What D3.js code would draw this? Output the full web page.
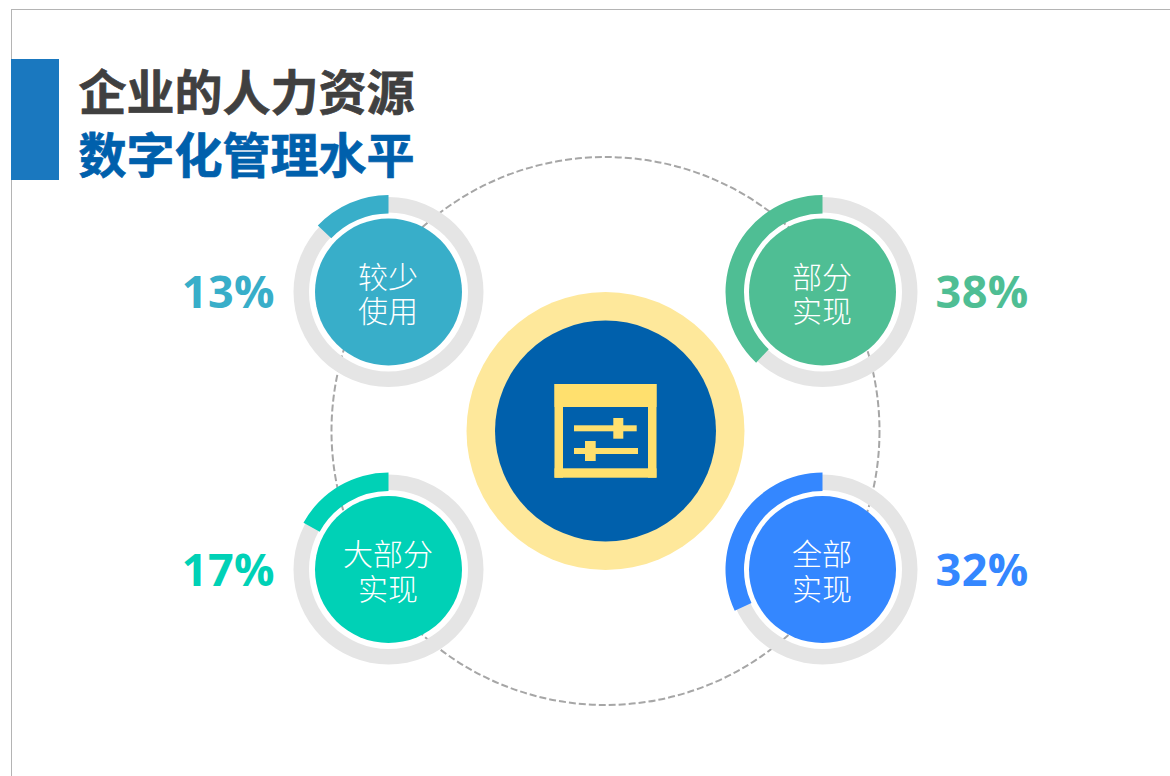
<!DOCTYPE html>
<html><head><meta charset="utf-8">
<script src="https://cdn.jsdelivr.net/npm/d3@7"></script>
<style>html,body{margin:0;padding:0;background:#fff;overflow:hidden}svg{display:block}</style></head>
<body><svg id="c" width="1170" height="776"></svg>
<script>
const titleLines = ["企业的人力资源", "数字化管理水平"];
const categories = [["较少","使用"], ["部分","实现"], ["大部分","实现"], ["全部","实现"]];
const values = [13, 38, 17, 32];
const colors = ["#38aec9", "#4fbe94", "#00d1b6", "#3487ff"];
const cols = [0, 1, 0, 1];
const rows = [0, 0, 1, 1];

const svg = d3.select("#c");
const cx = 605.5, cy = 431;
const x = d3.scaleOrdinal().domain([0,1]).range([388.5, 822.5]);
const y = d3.scaleOrdinal().domain([0,1]).range([292, 569.5]);
const angle = d3.scaleLinear().domain([0,100]).range([0, -2*Math.PI]);
const cjk = "'Noto Sans CJK SC','Noto Sans',sans-serif";

// frame
svg.append("rect").attr("x",11.5).attr("y",9.5).attr("width",1170).attr("height",800)
  .attr("fill","#fff").attr("stroke","#b4b4b4").attr("stroke-width",1);
// title
svg.append("rect").attr("x",11).attr("y",59).attr("width",48).attr("height",121).attr("fill","#1a78bf");
svg.selectAll("text.title").data(titleLines).join("text").attr("class","title")
  .attr("x",78.5).attr("y",(d,i)=>i?173:110)
  .attr("font-family",cjk).attr("font-weight",700).attr("font-size",48)
  .attr("fill",(d,i)=>i?"#0060ac":"#404040")
  .attr("stroke",(d,i)=>i?"#0060ac":"#404040").attr("stroke-width",0.7).text(d=>d);

// dashed orbit
svg.append("circle").attr("cx",cx).attr("cy",cy).attr("r",274)
  .attr("fill","none").attr("stroke","#a6a6a6").attr("stroke-width",2).attr("stroke-dasharray","7 3");

// centre
svg.append("circle").attr("cx",cx).attr("cy",cy).attr("r",139).attr("fill","#fee89b");
svg.append("circle").attr("cx",cx).attr("cy",cy).attr("r",110.5).attr("fill","#0060ac");
const ic = svg.append("g").attr("transform",`translate(${cx},${cy})`).attr("fill","#ffe06e");
const iconRects = [[-51,-47,102,23],[-51,-47,8.5,93.7],[42.5,-47,8.5,93.7],[-51,37.3,102,9.4],
  [-31.5,-5.7,62.7,6],[7.8,-13,10,20.7],[-31.5,17,64,6],[-20.5,10,10.7,20]];
ic.selectAll("rect").data(iconRects).join("rect")
  .attr("x",d=>d[0]).attr("y",d=>d[1]).attr("width",d=>d[2]).attr("height",d=>d[3]);

// donuts
const ringBg = d3.arc().innerRadius(79.5).outerRadius(95).startAngle(0).endAngle(2*Math.PI);
const ringFg = d3.arc().innerRadius(78.5).outerRadius(97).startAngle(0);
const g = svg.selectAll("g.d").data(values).join("g").attr("class","d")
  .attr("transform",(d,i)=>`translate(${x(cols[i])},${y(rows[i])})`);
g.append("path").attr("d",ringBg()).attr("fill","#e5e5e5");
g.append("path").attr("d",d=>ringFg({endAngle:angle(d)})).attr("fill",(d,i)=>colors[i]);
g.append("circle").attr("r",73.5).attr("fill",(d,i)=>colors[i]);
g.each(function(d,i){
  const sel=d3.select(this);
  categories[i].forEach((t,j)=>sel.append("text").attr("text-anchor","middle")
    .attr("x",-0.5).attr("y",j?30:-4.5).attr("font-family",cjk).attr("font-weight",300).attr("font-size",30)
    .attr("fill","#fff").text(t));
  sel.append("text").attr("text-anchor",cols[i]?"start":"end")
    .attr("x",cols[i]?113:-113.5).attr("y",16)
    .attr("font-family","'Open Sans',sans-serif").attr("font-weight",700).attr("font-size",45)
    .attr("letter-spacing",0.4)
    .attr("fill",colors[i]).text(d+"%");
});
</script></body></html>
